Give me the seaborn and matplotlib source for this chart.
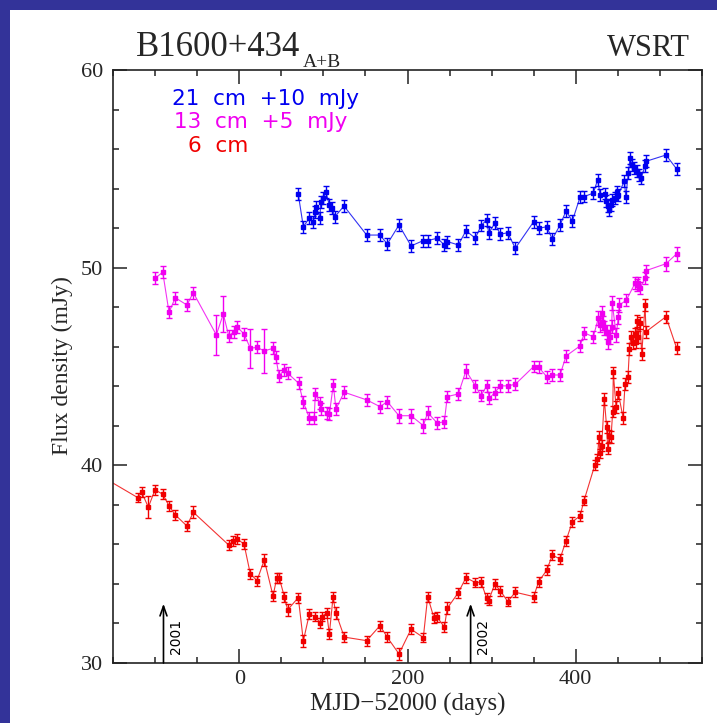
import numpy as np
import pandas as pd
import matplotlib
matplotlib.use("Agg")
import matplotlib.pyplot as plt
import seaborn as sns
from matplotlib.ticker import MultipleLocator
from matplotlib.patches import Rectangle

# ---------------- data (MJD-52000, flux density in mJy incl. offsets) ----------------
red_x = [-190, -120.7, -115.9, -108.0, -100.1, -90.9, -83.4, -76.0, -62.1, -54.6,
         -12.5, -7.0, -3.0, 5.7, 13.2, 21.1, 29.8, 40.2, 44.6, 47.7,
         53.6, 57.6, 70.2, 76.2, 83.3, 90.1, 96.4, 98.0, 104.0, 107.1,
         111.5, 114.7, 124.9, 151.5, 167.3, 176.0, 189.9, 204.2, 218.8, 224.0,
         231.5, 235.4, 243.8, 247.3, 260.4, 269.5, 280.6, 287.4, 294.1, 296.5,
         303.6, 310.3, 319.1, 328.1, 350.0, 355.9, 365.4, 372.1, 381.3, 388.4,
         395.9, 405.0, 409.8, 422.5, 425.5, 427.6, 428.5, 430.8, 433.9, 436.7,
         437.9, 439.8, 441.9, 443.9, 444.6, 447.8, 450.6, 456.2, 458.5, 462.0,
         463.8, 465.5, 468.0, 469.8, 471.8, 472.8, 474.5, 476.3, 478.4, 482.3,
         483.5, 507.2, 519.9]
red_y = [40.10, 38.37, 38.64, 37.88, 38.76, 38.54, 37.95, 37.49, 36.93, 37.63,
         35.97, 36.16, 36.29, 36.02, 34.51, 34.17, 35.21, 33.39, 34.30, 34.29,
         33.36, 32.69, 33.31, 31.12, 32.47, 32.35, 32.04, 32.35, 32.52, 31.46,
         33.33, 32.55, 31.31, 31.13, 31.89, 31.30, 30.46, 31.71, 31.29, 33.36,
         32.27, 32.32, 31.81, 32.77, 33.56, 34.32, 34.07, 34.09, 33.28, 33.16,
         33.99, 33.66, 33.11, 33.58, 33.36, 34.12, 34.69, 35.45, 35.27, 36.19,
         37.14, 37.44, 38.22, 40.00, 40.30, 41.45, 40.60, 41.00, 43.35, 41.92,
         40.85, 41.50, 41.45, 42.72, 44.70, 42.95, 43.65, 42.40, 44.10, 44.45,
         45.90, 46.50, 46.20, 46.65, 46.26, 47.30, 46.50, 47.19, 45.62, 48.10,
         46.76, 47.52, 45.92]
red_err = [0.25, 0.25, 0.25, 0.55, 0.25, 0.25, 0.25, 0.25, 0.25, 0.30,
           0.25, 0.25, 0.25, 0.25, 0.25, 0.25, 0.30, 0.25, 0.25, 0.25,
           0.25, 0.30, 0.25, 0.30, 0.25, 0.25, 0.25, 0.25, 0.25, 0.25,
           0.25, 0.30, 0.25, 0.25, 0.25, 0.25, 0.30, 0.25, 0.25, 0.25,
           0.25, 0.25, 0.25, 0.30, 0.25, 0.25, 0.25, 0.25, 0.25, 0.25,
           0.25, 0.25, 0.25, 0.25, 0.25, 0.25, 0.25, 0.25, 0.25, 0.25,
           0.25, 0.25, 0.25, 0.25, 0.25, 0.30, 0.25, 0.30, 0.30, 0.30,
           0.30, 0.30, 0.30, 0.30, 0.30, 0.30, 0.30, 0.30, 0.30, 0.30,
           0.30, 0.30, 0.30, 0.30, 0.30, 0.30, 0.30, 0.30, 0.30, 0.30,
           0.30, 0.30, 0.30]

mag_x = [-100.1, -90.9, -83.4, -76.0, -62.1, -54.6, -27.2, -18.9, -12.5, -6.2,
         -3.0, 5.7, 13.2, 21.1, 29.8, 40.2, 43.4, 47.3, 53.6, 57.6,
         70.7, 76.2, 83.3, 89.2, 90.4, 96.4, 97.2, 104.0, 107.1, 111.8,
         115.0, 124.7, 151.5, 167.3, 176.0, 189.9, 204.2, 218.8, 224.0, 235.4,
         243.8, 247.3, 260.4, 269.5, 280.6, 287.4, 294.1, 297.3, 303.6, 310.3,
         319.1, 328.1, 350.0, 355.9, 365.4, 372.1, 381.3, 388.4, 405.0, 410.3,
         420.8, 426.8, 428.8, 431.5, 432.7, 433.9, 436.7, 438.6, 440.7, 442.7,
         443.4, 448.0, 450.6, 451.8, 460.0, 470.4, 472.4, 474.3, 476.3, 482.3,
         483.5, 507.2, 519.9]
mag_y = [49.46, 49.77, 47.74, 48.48, 48.11, 48.74, 46.60, 47.66, 46.55, 46.76,
         47.02, 46.65, 45.92, 45.97, 45.79, 45.92, 45.50, 44.52, 44.83, 44.66,
         44.15, 43.19, 42.41, 42.41, 43.60, 43.14, 42.85, 42.63, 42.58, 44.07,
         42.85, 43.70, 43.31, 42.97, 43.22, 42.51, 42.51, 42.01, 42.67, 42.13,
         42.21, 43.48, 43.61, 44.79, 44.02, 43.53, 44.02, 43.39, 43.68, 44.02,
         44.02, 44.10, 45.00, 44.96, 44.49, 44.57, 44.57, 45.53, 46.04, 46.70,
         46.50, 47.45, 47.12, 47.69, 47.19, 46.93, 46.76, 46.26, 46.51, 47.02,
         48.20, 46.60, 47.50, 48.11, 48.35, 49.21, 49.13, 49.21, 48.96, 49.46,
         49.85, 50.20, 50.70]
mag_err = [0.30, 0.30, 0.30, 0.30, 0.30, 0.30, 1.00, 0.90, 0.30, 0.30,
           0.30, 0.30, 1.00, 0.30, 1.10, 0.30, 0.30, 0.30, 0.30, 0.30,
           0.30, 0.30, 0.30, 0.30, 0.30, 0.30, 0.30, 0.30, 0.30, 0.30,
           0.30, 0.30, 0.30, 0.30, 0.30, 0.35, 0.35, 0.35, 0.35, 0.30,
           0.30, 0.30, 0.30, 0.35, 0.30, 0.30, 0.30, 0.30, 0.30, 0.30,
           0.30, 0.30, 0.30, 0.30, 0.30, 0.30, 0.30, 0.30, 0.30, 0.30,
           0.30, 0.35, 0.35, 0.35, 0.35, 0.35, 0.35, 0.35, 0.35, 0.35,
           0.35, 0.35, 0.35, 0.35, 0.30, 0.30, 0.30, 0.30, 0.30, 0.30,
           0.30, 0.35, 0.35]

blue_x = [70.2, 76.2, 83.3, 88.1, 90.1, 91.3, 96.0, 96.8, 99.9, 103.1,
          107.1, 109.9, 113.8, 124.5, 151.5, 167.3, 176.0, 189.9, 204.2, 218.8,
          224.0, 235.4, 243.8, 247.3, 260.4, 269.5, 280.6, 287.4, 294.1, 296.5,
          303.6, 310.3, 319.1, 328.1, 350.0, 355.9, 365.4, 372.1, 381.3, 388.4,
          395.9, 405.0, 410.0, 420.8, 426.0, 428.8, 434.7, 435.6, 437.9, 439.5,
          441.9, 443.4, 446.6, 448.6, 450.6, 457.8, 459.4, 462.5, 464.5, 466.5,
          469.6, 472.4, 475.1, 477.5, 482.3, 483.5, 507.2, 519.9]
blue_y = [53.71, 52.07, 52.50, 52.33, 52.83, 53.09, 52.53, 53.34, 53.51, 53.81,
          53.17, 53.00, 52.58, 53.12, 51.65, 51.65, 51.20, 52.16, 51.10, 51.37,
          51.37, 51.49, 51.15, 51.32, 51.15, 51.87, 51.49, 52.13, 52.41, 51.74,
          52.24, 51.69, 51.77, 50.98, 52.33, 51.99, 52.07, 51.44, 52.16, 52.87,
          52.36, 53.56, 53.60, 53.77, 54.45, 53.69, 53.75, 53.36, 53.10, 52.93,
          53.19, 53.44, 53.53, 53.81, 53.69, 54.40, 53.56, 54.79, 55.55, 55.21,
          55.04, 54.88, 54.70, 54.54, 55.13, 55.38, 55.70, 54.99]
blue_err = [0.30] * len(blue_x)

series_names = ["21 cm", "13 cm", "6 cm"]
series_colors = {"21 cm": "#0000f0", "13 cm": "#f000f0", "6 cm": "#f00000"}
legend_labels = ["21  cm  +10  mJy", "13  cm  +5  mJy", "6  cm"]
x_ticks = [0, 200, 400]
y_ticks = [30, 40, 50, 60]
arrow_years = ["2001", "2002"]
arrow_mjd = [-90.0, 275.0]

df = pd.concat([
    pd.DataFrame({"mjd": blue_x, "flux": blue_y, "err": blue_err, "band": "21 cm"}),
    pd.DataFrame({"mjd": mag_x, "flux": mag_y, "err": mag_err, "band": "13 cm"}),
    pd.DataFrame({"mjd": red_x, "flux": red_y, "err": red_err, "band": "6 cm"}),
], ignore_index=True)

# ---------------- figure ----------------
sns.set_style("ticks")
plt.rcParams["font.family"] = ["Liberation Serif", "DejaVu Serif"]

W, H = 717, 723
fig = plt.figure(figsize=(W / 100, H / 100), dpi=100)
fig.patch.set_facecolor("#333399")
fig.patches.append(Rectangle((10 / W, 0), 1, 1 - 10 / H, transform=fig.transFigure,
                             facecolor="white", edgecolor="none", zorder=-5))

ax = fig.add_axes([113 / W, 1 - 663 / H, (702 - 113) / W, (663 - 70) / H])
ax.set_facecolor("white")

sns.lineplot(data=df, x="mjd", y="flux", hue="band", palette=series_colors,
             hue_order=series_names, estimator=None, sort=True, units="band",
             lw=0.8, alpha=0.8, legend=False, ax=ax, zorder=2)
for name in series_names:
    d = df[df["band"] == name]
    ax.errorbar(d["mjd"], d["flux"], yerr=d["err"], fmt="s", ms=3.0,
                color=series_colors[name], ecolor=series_colors[name],
                elinewidth=1.0, capsize=2.2, capthick=1.0, zorder=3)

ax.set_xlim(-150, 550)
ax.set_ylim(30, 60)
ax.set_xticks(x_ticks)
ax.set_yticks(y_ticks)
ax.xaxis.set_minor_locator(MultipleLocator(50))
ax.yaxis.set_minor_locator(MultipleLocator(2))
ax.tick_params(which="both", direction="in", top=True, right=True,
               color="#222222", width=1.1)
ax.tick_params(which="major", length=10, labelsize=16)
ax.tick_params(axis="x", which="major", pad=5)
ax.tick_params(axis="y", which="major", pad=7)
ax.tick_params(which="minor", length=4.5)
for s in ax.spines.values():
    s.set_color("#222222")
    s.set_linewidth(1.2)
ax.set_xlabel("")
ax.set_ylabel("")

# legend-like coloured labels
leg_pos = [(-80.0, 58.52), (-77.5, 57.38), (-60.5, 56.16)]
for (lx, ly), lab, name in zip(leg_pos, legend_labels, series_names):
    ax.text(lx, ly, lab, color=series_colors[name], fontsize=15.5,
            family=["DejaVu Sans"], ha="left", va="center")

# year arrows
for xm, yr in zip(arrow_mjd, arrow_years):
    ax.annotate("", xy=(xm, 33.0), xytext=(xm, 30.0),
                arrowprops=dict(arrowstyle="->,head_length=0.7,head_width=0.25",
                                color="black", lw=1.2, shrinkA=0, shrinkB=0))
    ax.text(xm + 15, 31.35, yr, rotation=90, ha="center", va="center",
            fontsize=10, family=["DejaVu Sans"], color="black")

# axis labels
fig.text(408 / W, 1 - 704 / H, "MJD\u221252000 (days)", ha="center", va="center",
         fontsize=18)
fig.text(62 / W, 1 - 366 / H, "Flux density (mJy)", ha="center", va="center",
         rotation=90, fontsize=17)

# title
t = fig.text(136 / W, 1 - 56 / H, "B1600+434", ha="left", va="baseline", fontsize=25)
fig.text(690 / W, 1 - 56 / H, "WSRT", ha="right", va="baseline", fontsize=22)
fig.canvas.draw()
bb = t.get_window_extent(renderer=fig.canvas.get_renderer())
fig.text(bb.x1 / W + 3 / W, 1 - 67 / H, "A+B", ha="left", va="baseline", fontsize=14)

fig.savefig("out.png", dpi=100, facecolor=fig.get_facecolor())
